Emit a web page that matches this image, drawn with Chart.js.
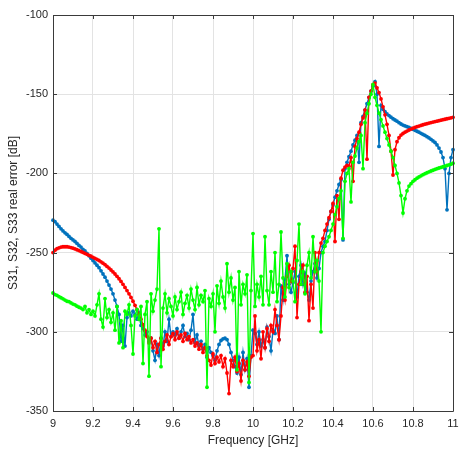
<!DOCTYPE html>
<html>
<head>
<meta charset="utf-8">
<script src="https://cdn.jsdelivr.net/npm/chart.js@4/dist/chart.umd.min.js"></script>
<style>
  html, body { margin: 0; padding: 0; background: #ffffff; }
  #wrap { width: 460px; height: 450px; }
</style>
</head>
<body>
<div id="wrap"><canvas id="c" width="460" height="450"></canvas></div>
<script>
// Frequency sweep [GHz]
const freqGHz = [
  9.00, 9.01, 9.02, 9.03, 9.04, 9.05, 9.06, 9.07, 9.08, 9.09,
  9.10, 9.11, 9.12, 9.13, 9.14, 9.15, 9.16, 9.17, 9.18, 9.19,
  9.20, 9.21, 9.22, 9.23, 9.24, 9.25, 9.26, 9.27, 9.28, 9.29,
  9.30, 9.31, 9.32, 9.33, 9.34, 9.35, 9.36, 9.37, 9.38, 9.39,
  9.40, 9.41, 9.42, 9.43, 9.44, 9.45, 9.46, 9.47, 9.48, 9.49,
  9.50, 9.51, 9.52, 9.53, 9.54, 9.55, 9.56, 9.57, 9.58, 9.59,
  9.60, 9.61, 9.62, 9.63, 9.64, 9.65, 9.66, 9.67, 9.68, 9.69,
  9.70, 9.71, 9.72, 9.73, 9.74, 9.75, 9.76, 9.77, 9.78, 9.79,
  9.80, 9.81, 9.82, 9.83, 9.84, 9.85, 9.86, 9.87, 9.88, 9.89,
  9.90, 9.91, 9.92, 9.93, 9.94, 9.95, 9.96, 9.97, 9.98, 9.99,
  10.00, 10.01, 10.02, 10.03, 10.04, 10.05, 10.06, 10.07, 10.08, 10.09,
  10.10, 10.11, 10.12, 10.13, 10.14, 10.15, 10.16, 10.17, 10.18, 10.19,
  10.20, 10.21, 10.22, 10.23, 10.24, 10.25, 10.26, 10.27, 10.28, 10.29,
  10.30, 10.31, 10.32, 10.33, 10.34, 10.35, 10.36, 10.37, 10.38, 10.39,
  10.40, 10.41, 10.42, 10.43, 10.44, 10.45, 10.46, 10.47, 10.48, 10.49,
  10.50, 10.51, 10.52, 10.53, 10.54, 10.55, 10.56, 10.57, 10.58, 10.59,
  10.60, 10.61, 10.62, 10.63, 10.64, 10.65, 10.66, 10.67, 10.68, 10.69,
  10.70, 10.71, 10.72, 10.73, 10.74, 10.75, 10.76, 10.77, 10.78, 10.79,
  10.80, 10.81, 10.82, 10.83, 10.84, 10.85, 10.86, 10.87, 10.88, 10.89,
  10.90, 10.91, 10.92, 10.93, 10.94, 10.95, 10.96, 10.97, 10.98, 10.99,
  11.00
];

// S31 real error [dB] (blue)
const s31 = [
  -229.5, -230.5, -232, -233.5, -235, -236.3, -237.5, -238.5, -239.8, -241,
  -242, -243, -244.2, -245.5, -246.5, -248, -249, -250.5, -252, -253.5,
  -255, -256.5, -258, -259.5, -261.5, -263.5, -265.5, -268, -270.5, -273,
  -276, -280, -284, -289, -306, -296, -309, -291, -288, -290,
  -287, -289, -292, -288, -296, -298, -302, -300, -306, -304,
  -312, -318, -308, -315, -304, -309, -300, -306, -292, -303,
  -300, -302, -298, -304, -300, -296, -303, -301, -305, -299,
  -289, -307, -302, -309, -306, -311, -308, -316, -310, -313,
  -315, -318, -312, -308, -305.5, -304.5, -304, -305, -308, -313,
  -318, -322, -326, -316, -327, -313, -324, -317, -335, -315,
  -299, -301, -308, -300, -309, -305, -310, -297, -303, -312,
  -299, -301, -290, -305, -271, -280, -267, -252, -270, -275,
  -269, -262, -278, -265, -258, -270, -263, -275, -280, -268,
  -262, -257, -266, -260, -250, -246, -243, -236, -229, -224,
  -220, -215, -211, -207, -204, -242, -197, -193, -189.5, -186,
  -182, -179, -176, -193, -168, -164, -160, -156, -152, -148,
  -145, -142, -150, -183, -157, -159.5, -161, -162.5, -163.5, -164.5,
  -165.5, -166.3, -167, -168, -168.8, -169.5, -170, -170.5, -171, -171.6,
  -172.2, -172.8, -173.4, -174, -174.7, -175.4, -176, -176.8, -177.6, -178.5,
  -179.5, -180.5, -182, -184, -186.5, -190, -197, -223, -200, -190,
  -185
];

// S32 real error [dB] (red)
const s32 = [
  -250, -248.5, -247.5, -247, -246.5, -246.3, -246.3, -246.3, -246.5, -246.8,
  -247.2, -247.7, -248.2, -248.7, -249.3, -249.9, -250.5, -251.1, -251.7, -252.3,
  -253, -253.6, -254.3, -255, -255.8, -256.7, -257.6, -258.7, -259.8, -261,
  -262.2, -263.5, -265, -266.5, -268.2, -270, -272, -274, -276, -278.3,
  -280.7, -283.3, -286, -289, -292, -295.5, -299, -303, -307, -304,
  -310, -306, -313, -308, -304, -311, -306, -302, -308, -303,
  -301, -305, -300, -304, -302, -306, -301, -305, -303, -307,
  -305, -309, -307, -311, -308, -313, -310, -315, -318, -321,
  -314, -320, -316, -319, -315, -322, -317, -326, -339, -318,
  -322, -316, -325, -320, -331, -318, -324, -319, -328, -316,
  -315, -290, -312, -305, -317, -300, -310, -298, -306, -296,
  -300, -286, -296, -305, -290, -272, -280, -265, -258, -268,
  -260, -246, -291, -270, -262, -258, -275, -265, -293, -270,
  -285, -250, -262, -250, -244, -241, -236, -232, -228, -224,
  -219, -243, -214, -229, -203, -198, -196, -195, -195.5, -190,
  -205, -183, -178, -174, -169, -165, -160, -191, -152, -148,
  -144, -143, -146, -149, -153, -158, -163, -169, -176, -186,
  -201, -185, -180, -177.5, -175.8, -174.8, -174, -173.3, -172.6, -172,
  -171.5, -171, -170.5, -170.1, -169.7, -169.3, -168.9, -168.6, -168.2, -167.9,
  -167.6, -167.3, -167, -166.7, -166.4, -166.1, -165.8, -165.5, -165.2, -164.9,
  -164.6
];

// S33 real error [dB] (green)
const s33 = [
  -275.5, -276.5, -277, -277.8, -278.5, -279.2, -280, -280.7, -281, -281.8,
  -282.5, -283, -283.8, -284.5, -285, -286, -284, -288, -286, -289,
  -287, -290, -283, -276, -292, -297, -279, -291, -286, -294,
  -288, -299, -284, -307, -293, -310, -287, -289, -283, -296,
  -314, -290, -286, -292, -284, -320, -289, -281, -328, -276,
  -287, -280, -273, -235, -322, -285, -276, -288, -279, -284,
  -290, -278, -286, -281, -275, -289, -282, -277, -285, -273,
  -280, -286, -272, -283, -277, -281, -274, -335, -279, -284,
  -276, -300, -271, -282, -268, -278, -285, -257, -275, -266,
  -280, -272, -324, -262, -283, -270, -276, -264, -332, -274,
  -238, -284, -270, -278, -265, -283, -240, -274, -283, -262,
  -275, -250, -281, -270, -237, -266, -278, -257, -272, -262,
  -268, -281, -255, -232, -270, -262, -276, -258, -250, -266,
  -240, -262, -255, -268, -300, -250, -246, -243, -240, -236,
  -232, -226, -221, -216, -211, -241, -205, -200, -197, -218,
  -193, -189, -184, -180, -176, -197, -168, -162, -156, -150,
  -144, -152, -157, -162, -166, -170, -174, -178, -182, -186,
  -190, -195, -200, -206, -214, -225, -216, -211, -208, -206.5,
  -205, -204, -203, -202.2, -201.5, -200.8, -200.2, -199.6, -199, -198.5,
  -198, -197.5, -197, -196.6, -196.2, -195.8, -195.4, -195, -194.6, -194.2,
  -193.6
];

const xTickValues = [9, 9.2, 9.4, 9.6, 9.8, 10, 10.2, 10.4, 10.6, 10.8, 11];
const yTickValues = [-350, -300, -250, -200, -150, -100];

const xLabel = 'Frequency [GHz]';
const yLabel = 'S31, S32, S33 real error [dB]';

function pairs(ys) { return freqGHz.map((f, i) => ({ x: f, y: ys[i] })); }

const FONT = '"Liberation Sans", Arial, Helvetica, sans-serif';
const AX = '#262626';

const boxPlugin = {
  id: 'matlabBox',
  afterDatasetsDraw(chart) {
    const { ctx, chartArea: a, scales } = chart;
    ctx.save();
    ctx.strokeStyle = '#3a3a3a';
    ctx.lineWidth = 1;
    ctx.beginPath();
    ctx.rect(Math.round(a.left) + 0.5, Math.round(a.top) + 0.5,
             Math.round(a.right) - Math.round(a.left), Math.round(a.bottom) - Math.round(a.top));
    ctx.stroke();
    const tl = 4;
    ctx.beginPath();
    for (const v of xTickValues) {
      const px = Math.round(scales.x.getPixelForValue(v)) + 0.5;
      ctx.moveTo(px, a.bottom); ctx.lineTo(px, a.bottom - tl);
      ctx.moveTo(px, a.top); ctx.lineTo(px, a.top + tl);
    }
    for (const v of yTickValues) {
      const py = Math.round(scales.y.getPixelForValue(v)) + 0.5;
      ctx.moveTo(a.left, py); ctx.lineTo(a.left + tl, py);
      ctx.moveTo(a.right, py); ctx.lineTo(a.right - tl, py);
    }
    ctx.stroke();
    ctx.restore();
  }
};

function ds(label, ys, color, order) {
  return {
    label, data: pairs(ys),
    borderColor: color, backgroundColor: color,
    borderWidth: 1.4, pointRadius: 1.9, pointBorderWidth: 0,
    pointBackgroundColor: color, tension: 0, order, clip: 2
  };
}

new Chart(document.getElementById('c'), {
  type: 'line',
  data: {
    datasets: [
      ds('S31', s31, '#0072BD', 2),
      ds('S32', s32, '#FF0000', 1),
      ds('S33', s33, '#00FF00', 0)
    ]
  },
  options: {
    responsive: false,
    animation: false,
    events: [],
    layout: { padding: { top: 15, right: 7, left: 0, bottom: 0 } },
    plugins: { legend: { display: false }, tooltip: { enabled: false }, title: { display: false } },
    scales: {
      x: {
        type: 'linear', min: 9, max: 11,
        afterBuildTicks: (s) => { s.ticks = xTickValues.map(v => ({ value: v })); },
        afterFit: (s) => { s.height = 39; s.paddingRight = 0; s.paddingLeft = 0; },
        ticks: {
          padding: 6, color: AX, font: { family: FONT, size: 11 }, maxRotation: 0,
          callback: (v) => String(Number(v.toFixed(1)))
        },
        grid: { color: '#e3e3e3', lineWidth: 1, drawTicks: false },
        border: { display: false },
        title: { display: true, text: xLabel, color: AX, font: { family: FONT, size: 12 },
                 padding: { top: 0, bottom: 2 } }
      },
      y: {
        type: 'linear', min: -350, max: -100,
        afterBuildTicks: (s) => { s.ticks = yTickValues.map(v => ({ value: v })); },
        afterFit: (s) => { s.width = 53; s.paddingTop = 0; s.paddingBottom = 0; },
        ticks: { padding: 5, color: AX, font: { family: FONT, size: 11 } },
        grid: { color: '#e3e3e3', lineWidth: 1, drawTicks: false },
        border: { display: false },
        title: { display: true, text: yLabel, color: AX, font: { family: FONT, size: 12 },
                 padding: { top: 6, bottom: 0 } }
      }
    }
  },
  plugins: [boxPlugin]
});
</script>
</body>
</html>
